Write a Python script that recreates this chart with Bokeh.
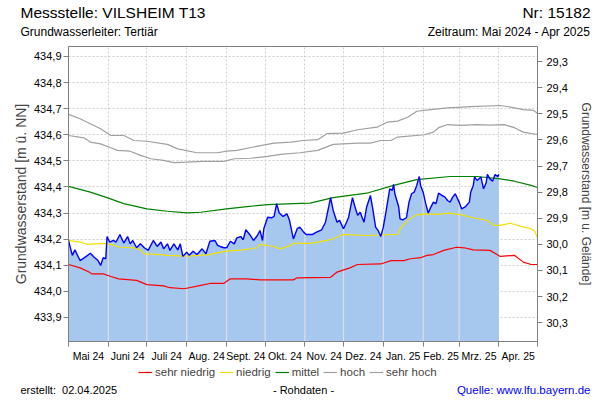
import numpy as np
import pandas as pd
from bokeh.plotting import figure
from bokeh.layouts import column
from bokeh.models import (Range1d, LinearAxis, FixedTicker, CustomJSTickFormatter,
                          Label, Legend, LegendItem)
from bokeh.embed import file_html
from bokeh.resources import INLINE

FONT = "Liberation Sans"
START = pd.Timestamp("2024-05-01")
GROUND = 464.18  # Gelaendehoehe [m ue. NN]

# ---- data (days since 2024-05-01) ----
blue_day = [0, 3, 5, 9, 13, 17, 20, 23, 25, 27,
            29, 30, 32, 35, 37, 40, 43, 46, 48, 50,
            53, 56, 59, 62, 66, 69, 72, 74, 77, 79,
            82, 85, 87, 89, 92, 94, 97, 100, 104, 107,
            110, 114, 116, 118, 121, 123, 126, 129, 131, 134,
            136, 138, 141, 144, 147, 149, 151, 152, 155, 158,
            160, 162, 164, 167, 170, 172, 175, 178, 180, 183,
            185, 190, 193, 197, 200, 203, 204, 206, 209, 211,
            214, 216, 218, 221, 223, 225, 227, 230, 232, 235,
            237, 239, 241, 243, 245, 247, 250, 252, 253, 254,
            257, 258, 260, 263, 265, 267, 269, 271, 273, 274,
            276, 278, 280, 282, 284, 286, 288, 291, 293, 295,
            297, 299, 301, 304, 306, 309, 312, 313, 315, 316,
            318, 321, 323, 325, 326, 328, 330, 332, 334, 335]
blue_val = [434.195, 434.138, 434.159, 434.118, 434.131, 434.146, 434.131, 434.118, 434.099, 434.129,
            434.125, 434.210, 434.189, 434.195, 434.189, 434.218, 434.185, 434.210, 434.182, 434.195,
            434.167, 434.182, 434.167, 434.157, 434.195, 434.172, 434.189, 434.163, 434.182, 434.157,
            434.182, 434.159, 434.182, 434.134, 434.150, 434.138, 434.154, 434.141, 434.163, 434.144,
            434.192, 434.195, 434.176, 434.172, 434.167, 434.167, 434.192, 434.182, 434.205, 434.210,
            434.198, 434.236, 434.218, 434.195, 434.214, 434.233, 434.195, 434.240, 434.284, 434.282,
            434.287, 434.336, 434.300, 434.287, 434.297, 434.272, 434.201, 434.240, 434.246, 434.227,
            434.218, 434.218, 434.227, 434.236, 434.265, 434.336, 434.359, 434.310, 434.265, 434.272,
            434.240, 434.261, 434.284, 434.359, 434.323, 434.291, 434.303, 434.265, 434.323, 434.367,
            434.310, 434.246, 434.233, 434.210, 434.246, 434.303, 434.393, 434.387, 434.410, 434.374,
            434.323, 434.278, 434.274, 434.282, 434.342, 434.374, 434.380, 434.406, 434.440, 434.406,
            434.380, 434.336, 434.300, 434.323, 434.342, 434.336, 434.376, 434.367, 434.361, 434.348,
            434.342, 434.361, 434.374, 434.342, 434.316, 434.325, 434.342, 434.380, 434.406, 434.438,
            434.425, 434.438, 434.393, 434.415, 434.448, 434.431, 434.422, 434.448, 434.440, 434.448]

mittel_day = [0, 17, 30, 43, 61, 77, 92, 103, 123, 139, 155, 175, 188, 206, 232, 253,
              271, 297, 318, 336, 347, 360, 365]
mittel_val = [434.402, 434.380, 434.359, 434.336, 434.316, 434.307, 434.301, 434.303, 434.316,
              434.325, 434.332, 434.336, 434.338, 434.359, 434.376, 434.406, 434.428, 434.440,
              434.440, 434.431, 434.422, 434.406, 434.398]

niedrig_day = [0, 9, 15, 27, 33, 40, 51, 56, 59, 72, 77, 92, 108, 123, 136, 147, 149, 160,
               165, 173, 175, 188, 194, 204, 214, 232, 256, 258, 264, 270, 277, 287, 296, 305,
               315, 326, 331, 336, 344, 352, 360, 363, 365]
niedrig_val = [434.195, 434.189, 434.180, 434.184, 434.180, 434.169, 434.167, 434.159, 434.144,
               434.141, 434.138, 434.135, 434.140, 434.154, 434.159, 434.167, 434.180, 434.172,
               434.163, 434.176, 434.184, 434.184, 434.189, 434.198, 434.218, 434.214, 434.218,
               434.240, 434.272, 434.291, 434.297, 434.295, 434.300, 434.294, 434.282, 434.272,
               434.253, 434.253, 434.261, 434.249, 434.240, 434.230, 434.203]

sehr_niedrig_day = [0, 9, 16, 18, 27, 33, 39, 53, 61, 74, 79, 90, 103, 111, 121, 126, 139,
                    149, 175, 178, 204, 209, 219, 225, 243, 251, 261, 266, 274, 279, 284, 292,
                    302, 308, 315, 328, 336, 347, 354, 360, 365]
sehr_niedrig_val = [434.103, 434.090, 434.074, 434.067, 434.067, 434.057, 434.048, 434.042,
                    434.026, 434.021, 434.014, 434.010, 434.023, 434.031, 434.031, 434.048,
                    434.048, 434.044, 434.044, 434.052, 434.054, 434.074, 434.090, 434.103,
                    434.105, 434.118, 434.118, 434.125, 434.129, 434.138, 434.141, 434.157,
                    434.169, 434.167, 434.159, 434.157, 434.134, 434.138, 434.112, 434.103,
                    434.103]

hoch_day = [0, 12, 17, 25, 33, 38, 48, 56, 64, 74, 82, 92, 105, 121, 129, 142, 155, 165,
            180, 194, 206, 225, 235, 243, 251, 256, 277, 284, 288, 295, 305, 318, 328, 339,
            347, 354, 365]
hoch_val = [434.597, 434.588, 434.572, 434.565, 434.550, 434.540, 434.537, 434.521, 434.508,
            434.502, 434.493, 434.495, 434.498, 434.498, 434.508, 434.510, 434.517, 434.525,
            434.531, 434.540, 434.563, 434.568, 434.568, 434.578, 434.578, 434.591, 434.600,
            434.610, 434.627, 434.639, 434.636, 434.639, 434.637, 434.639, 434.627, 434.610,
            434.601]

sehr_hoch_day = [0, 9, 17, 25, 33, 43, 51, 61, 77, 85, 100, 116, 123, 131, 144, 160, 173,
                 183, 194, 201, 214, 225, 240, 248, 256, 264, 271, 282, 295, 313, 336, 344,
                 354, 362, 365]
sehr_hoch_val = [434.678, 434.661, 434.642, 434.623, 434.597, 434.597, 434.578, 434.575,
                 434.563, 434.546, 434.531, 434.531, 434.537, 434.540, 434.553, 434.568,
                 434.572, 434.578, 434.581, 434.604, 434.606, 434.619, 434.629, 434.648,
                 434.652, 434.667, 434.690, 434.696, 434.703, 434.708, 434.712, 434.706,
                 434.696, 434.693, 434.682]

month_labels = ["Mai 24", "Juni 24", "Juli 24", "Aug. 24", "Sept. 24", "Okt. 24",
                "Nov. 24", "Dez. 24", "Jan. 25", "Feb. 25", "Mrz. 25", "Apr. 25"]
left_ticks = [433.9, 434.0, 434.1, 434.2, 434.3, 434.4, 434.5, 434.6, 434.7, 434.8, 434.9]
right_ticks = [29.3, 29.4, 29.5, 29.6, 29.7, 29.8, 29.9, 30.0, 30.1, 30.2, 30.3]

legend_labels = ["sehr niedrig", "niedrig", "mittel", "hoch", "sehr hoch"]
legend_colors = ["#ff0000", "#f5e000", "#008000", "#a0a0a0", "#a0a0a0"]

# ---- derived axis positions ----
month_starts = pd.date_range("2024-05-01", "2025-05-01", freq="MS")
ms_days = [float((d - START).days) for d in month_starts]
mid_days = [(a + b) / 2 for a, b in zip(ms_days[:-1], ms_days[1:])]

Y0, Y1 = 433.808, 434.938
W = 600
H_HEAD, H_MAIN, H_FOOT = 45, 320, 35
FL, FR = 68, 537           # frame left/right in page pixels
FT, FB = 1, 296            # frame top/bottom inside the main figure


def blank(height):
    f = figure(width=W, height=height, output_backend="svg", toolbar_location=None,
               x_range=Range1d(0, 1), y_range=Range1d(0, 1),
               x_axis_location=None, y_axis_location=None,
               min_border_left=0, min_border_right=0, min_border_top=0, min_border_bottom=0)
    f.frame_align = False
    f.xgrid.visible = False
    f.ygrid.visible = False
    f.outline_line_color = None
    f.background_fill_color = "white"
    f.border_fill_color = "white"
    return f


def text(f, height, t, px, py, size, align="left", color="#000000"):
    # px: page x, py: vertical centre measured from the top of figure f
    f.add_layout(Label(x=px, y=height - py, x_units="screen", y_units="screen", text=t,
                       text_font=FONT, text_font_size=size, text_align=align,
                       text_baseline="middle", text_color=color))


# ---- header ----
head = blank(H_HEAD)
text(head, H_HEAD, "Messstelle: VILSHEIM T13", 20, 12, "15.5px")
text(head, H_HEAD, "Nr: 15182", 590, 12, "15.5px", align="right")
text(head, H_HEAD, "Grundwasserleiter: Tertiär", 20, 31, "12px")
text(head, H_HEAD, "Zeitraum: Mai 2024 - Apr 2025", 590, 31, "12px", align="right")

# ---- main chart ----
p = figure(width=W, height=H_MAIN, output_backend="svg", toolbar_location=None,
           x_range=Range1d(0, 365), y_range=Range1d(Y0, Y1),
           min_border_left=FL, min_border_right=W - FR,
           min_border_top=FT, min_border_bottom=H_MAIN - FB)
p.frame_align = False
p.background_fill_color = "white"
p.border_fill_color = "white"
p.outline_line_color = "#808080"
p.outline_line_width = 1

GRID = "#cfcfcf"
xa = p.xaxis[0]
xa.ticker = FixedTicker(ticks=mid_days, minor_ticks=ms_days)
xa.formatter = CustomJSTickFormatter(args=dict(days=mid_days, labels=month_labels), code="""
    let best = 0;
    for (let i = 0; i < days.length; i++) {
        if (Math.abs(days[i] - tick) < Math.abs(days[best] - tick)) best = i;
    }
    return labels[best];
""")
xa.major_tick_out = 0
xa.major_tick_in = 0
xa.minor_tick_out = 5
xa.minor_tick_in = 0
xa.minor_tick_line_color = "#808080"
xa.axis_line_color = "#808080"
xa.major_label_standoff = 3
xa.major_label_text_font = FONT
xa.major_label_text_font_size = "10.5px"
xa.major_label_text_color = "#000000"
p.xgrid.ticker = FixedTicker(ticks=ms_days)
p.xgrid.grid_line_color = GRID
p.xgrid.grid_line_dash = "2 2"

fmt = "return tick.toFixed(1).replace('.', ',');"
ya = p.yaxis[0]
ya.ticker = FixedTicker(ticks=left_ticks)
ya.formatter = CustomJSTickFormatter(code=fmt)
ya.minor_tick_line_color = None
ya.major_tick_out = 5
ya.major_tick_in = 0
ya.major_tick_line_color = "#808080"
ya.axis_line_color = "#808080"
ya.major_label_standoff = 2
ya.major_label_text_font = FONT
ya.major_label_text_font_size = "11px"
ya.major_label_text_color = "#000000"
ya.axis_label = "Grundwasserstand [m ü. NN]"
ya.axis_label_text_font = FONT
ya.axis_label_text_font_size = "14px"
ya.axis_label_text_font_style = "normal"
ya.axis_label_standoff = 2
p.ygrid.ticker = FixedTicker(ticks=left_ticks)
p.ygrid.grid_line_color = GRID
p.ygrid.grid_line_dash = "2 2"

p.extra_y_ranges = {"depth": Range1d(start=GROUND - Y0, end=GROUND - Y1)}
ra = LinearAxis(y_range_name="depth", ticker=FixedTicker(ticks=right_ticks),
                formatter=CustomJSTickFormatter(code=fmt))
ra.minor_tick_line_color = None
ra.major_tick_out = 5
ra.major_tick_in = 0
ra.major_tick_line_color = "#808080"
ra.axis_line_color = "#808080"
ra.major_label_standoff = 4
ra.major_label_text_font = FONT
ra.major_label_text_font_size = "11px"
ra.major_label_text_color = "#000000"
ra.axis_label = "Grundwasserstand [m u. Gelände]"
ra.axis_label_text_font = FONT
ra.axis_label_text_font_size = "12px"
ra.axis_label_text_font_style = "normal"
ra.axis_label_standoff = 8
p.add_layout(ra, "right")

p.varea(x=blue_day, y1=Y0 - 1, y2=blue_val, fill_color="#a6c8ef", fill_alpha=1)
inside = [d for d in ms_days if blue_day[0] < d < blue_day[-1]]
p.segment(x0=inside, y0=[Y0 - 1] * len(inside), x1=inside,
          y1=list(np.interp(inside, blue_day, blue_val)), line_color="#dedede", line_width=1.2)

stat = [(sehr_niedrig_day, sehr_niedrig_val), (niedrig_day, niedrig_val),
        (mittel_day, mittel_val), (hoch_day, hoch_val), (sehr_hoch_day, sehr_hoch_val)]
for (dd, vv), col in zip(stat, legend_colors):
    p.line(dd, vv, line_color=col, line_width=1.2)
p.line(blue_day, blue_val, line_color="#0000ff", line_width=1.4)

# ---- footer: legend + source line ----
foot = blank(H_FOOT)
items = []
for lab, col in zip(legend_labels, legend_colors):
    r = foot.line(x=[np.nan], y=[np.nan], line_color=col, line_width=1.2)
    items.append(LegendItem(label=lab, renderers=[r]))
legend = Legend(items=items, orientation="horizontal", location=(135, 18),
                label_text_font=FONT, label_text_font_size="11.5px",
                glyph_width=14, glyph_height=14, label_height=14, label_standoff=3,
                spacing=4, padding=3, margin=0,
                border_line_alpha=0, background_fill_alpha=0)
foot.add_layout(legend)
text(foot, H_FOOT, "erstellt:\u00a0 02.04.2025", 20, 24, "11px")
text(foot, H_FOOT, "- Rohdaten -", 303, 24, "11px", align="center")
text(foot, H_FOOT, "Quelle: www.lfu.bayern.de", 590, 24, "11.5px", align="right", color="#0000ff")

page = column(head, p, foot, spacing=0)
open("out.html", "w").write(file_html(page, INLINE))
